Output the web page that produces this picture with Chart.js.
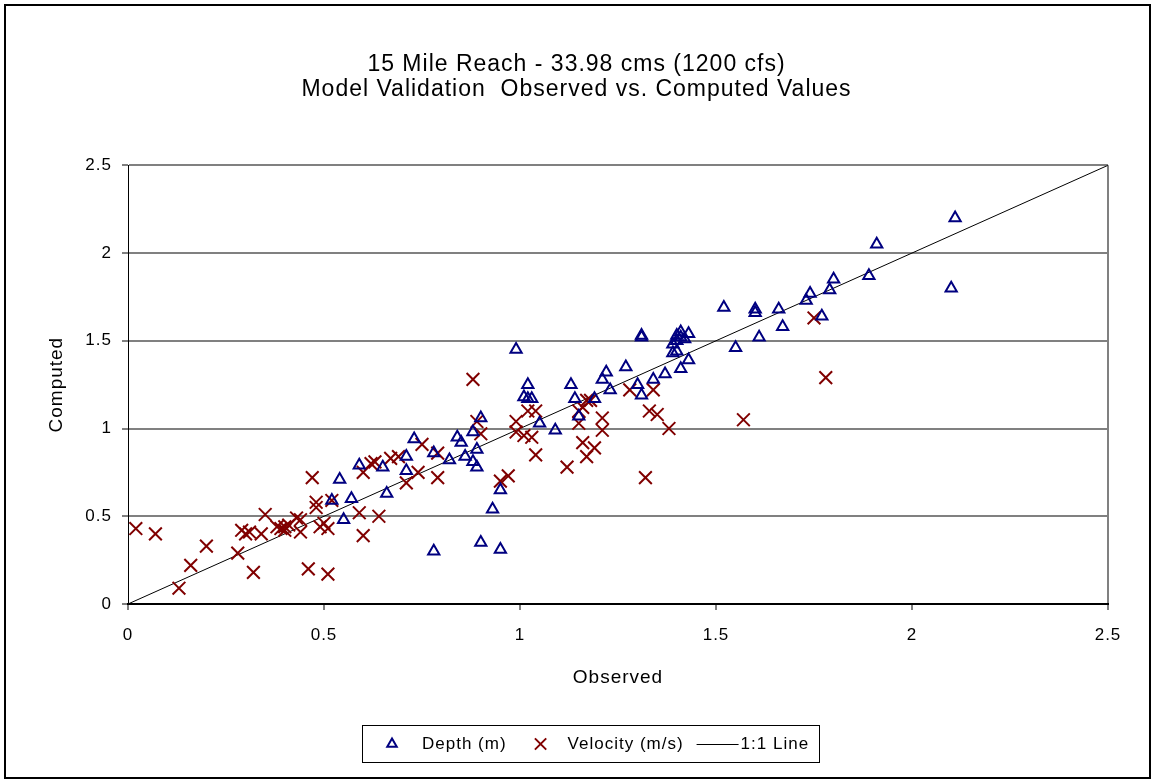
<!DOCTYPE html>
<html>
<head>
<meta charset="utf-8">
<title>15 Mile Reach - Model Validation</title>
<script src="https://cdn.jsdelivr.net/npm/chart.js@4.4.1/dist/chart.umd.min.js"></script>
<style>
    html, body { margin: 0; padding: 0; background: #fff; }
</style>
</head>
<body>
<canvas id="chart" width="1155" height="782"></canvas>
<script>
// Values (observed, computed).
const depth_observed = [
    0.52, 0.54, 0.55, 0.57, 0.59, 0.65, 0.66, 0.71, 0.71, 0.73,
    0.78, 0.78, 0.82, 0.84, 0.85, 0.86, 0.88, 0.88, 0.89, 0.89,
    0.90, 0.90, 0.93, 0.95, 0.95, 0.99, 1.01, 1.02, 1.02, 1.03,
    1.05, 1.09, 1.13, 1.14, 1.15, 1.19, 1.21, 1.22, 1.23, 1.27,
    1.30, 1.31, 1.31, 1.31, 1.34, 1.37, 1.39, 1.39, 1.40, 1.40,
    1.40, 1.41, 1.41, 1.42, 1.43, 1.41, 1.43, 1.52, 1.55, 1.60,
    1.60, 1.61, 1.66, 1.67, 1.73, 1.74, 1.77, 1.79, 1.80, 1.89,
    1.91, 2.11, 2.10,
];
const depth_computed = [
    0.59, 0.71, 0.48, 0.60, 0.79, 0.78, 0.63, 0.84, 0.76, 0.94,
    0.86, 0.30, 0.82, 0.95, 0.92, 0.84, 0.98, 0.81, 0.88, 0.78,
    1.06, 0.35, 0.54, 0.65, 0.31, 1.45, 1.18, 1.25, 1.17, 1.17,
    1.03, 0.99, 1.25, 1.17, 1.07, 1.17, 1.28, 1.32, 1.22, 1.35,
    1.25, 1.19, 1.53, 1.52, 1.28, 1.31, 1.43, 1.48, 1.44, 1.50,
    1.53, 1.52, 1.55, 1.51, 1.54, 1.34, 1.39, 1.69, 1.46, 1.68,
    1.66, 1.52, 1.68, 1.58, 1.73, 1.77, 1.64, 1.79, 1.85, 1.87,
    2.05, 2.20, 1.80,
];
const velocity_observed = [
    0.02, 0.07, 0.13, 0.16, 0.20, 0.28, 0.29, 0.30, 0.31, 0.32,
    0.34, 0.35, 0.38, 0.39, 0.40, 0.40, 0.41, 0.43, 0.44, 0.44,
    0.46, 0.47, 0.48, 0.48, 0.49, 0.50, 0.51, 0.51, 0.52, 0.59,
    0.60, 0.60, 0.62, 0.64, 0.63, 0.67, 0.69, 0.71, 0.74, 0.75,
    0.79, 0.79, 0.88, 0.89, 0.90, 0.95, 0.97, 0.99, 0.99, 1.01,
    1.02, 1.03, 1.04, 1.04, 1.12, 1.15, 1.15, 1.16, 1.17, 1.18,
    1.16, 1.17, 1.19, 1.21, 1.21, 1.28, 1.32, 1.33, 1.34, 1.35,
    1.38, 1.57, 1.75, 1.78,
];
const velocity_computed = [
    0.43, 0.40, 0.09, 0.22, 0.33, 0.29, 0.42, 0.40, 0.41, 0.18,
    0.40, 0.51, 0.44, 0.43, 0.42, 0.44, 0.45, 0.49, 0.48, 0.41,
    0.20, 0.72, 0.58, 0.55, 0.44, 0.46, 0.43, 0.17, 0.59, 0.52,
    0.39, 0.75, 0.80, 0.50, 0.81, 0.83, 0.84, 0.69, 0.75, 0.91,
    0.86, 0.72, 1.28, 1.04, 0.97, 0.70, 0.73, 1.04, 0.98, 0.96,
    1.10, 0.95, 1.10, 0.85, 0.78, 1.10, 1.03, 1.12, 1.16, 1.16,
    0.92, 0.84, 0.89, 1.06, 0.99, 1.22, 0.72, 1.10, 1.22, 1.08,
    1.00, 1.05, 1.63, 1.29,
];
const line_values = [0, 2.5];
const tick_values = [0, 0.5, 1, 1.5, 2, 2.5];
const tick_labels = ["0", "0.5", "1", "1.5", "2", "2.5"];
const title_lines = [
    "15 Mile Reach - 33.98 cms (1200 cfs)",
    "Model Validation  Observed vs. Computed Values",
];
const legend_labels = ["Depth (m)", "Velocity (m/s)", "1:1 Line"];

const font_family = '"Liberation Sans", Arial, sans-serif';
const depth_color = "#000080";
const velocity_color = "#800000";

function to_points(xs, ys) {
    return xs.map((x, i) => ({ x: x, y: ys[i] }));
}

// The spreadsheet text runs a bit wider than Arial; spread it slightly.
function widen_text(chart) {
    chart.ctx.letterSpacing = "1px";
}

// White page and black frame round the whole chart.
const frame = {
    id: "frame",
    beforeUpdate(chart) {
        widen_text(chart);
    },
    beforeDraw(chart) {
        const ctx = chart.ctx;
        widen_text(chart);
        ctx.save();
        ctx.fillStyle = "#fff";
        ctx.fillRect(0, 0, chart.width, chart.height);
        ctx.restore();
    },
    afterDraw(chart) {
        const ctx = chart.ctx;
        ctx.save();
        ctx.strokeStyle = "#000";
        ctx.lineWidth = 2;
        ctx.strokeRect(5, 5, chart.width - 10, chart.height - 9);
        ctx.restore();
    },
};

// Boxed legend under the plot, like the spreadsheet one.
const boxed_legend = {
    id: "boxed_legend",
    afterDraw(chart) {
        const ctx = chart.ctx;
        const y = 744;
        ctx.save();
        ctx.font = "17px " + font_family;
        ctx.textBaseline = "middle";
        ctx.fillStyle = "#000";

        let x = 392;
        const marker = (style, color, radius) => {
            ctx.strokeStyle = color;
            ctx.fillStyle = "rgba(0,0,0,0)";
            ctx.lineWidth = 2;
            Chart.helpers.drawPoint(ctx, { pointStyle: style, radius: radius, borderWidth: 2, rotation: 0 }, x, y);
            ctx.fillStyle = "#000";
        };

        marker("triangle", depth_color, 5.5);
        x += 30;
        ctx.fillText(legend_labels[0], x, y);
        x += ctx.measureText(legend_labels[0]).width + 34;

        marker("crossRot", velocity_color, 8);
        x += 27;
        ctx.fillText(legend_labels[1], x, y);
        x += ctx.measureText(legend_labels[1]).width + 13;

        ctx.strokeStyle = "#000";
        ctx.lineWidth = 1;
        ctx.beginPath();
        ctx.moveTo(x, y + 0.5);
        ctx.lineTo(x + 42, y + 0.5);
        ctx.stroke();
        x += 44;
        ctx.fillText(legend_labels[2], x, y);
        x += ctx.measureText(legend_labels[2]).width + 10;

        ctx.strokeStyle = "#000";
        ctx.lineWidth = 1;
        ctx.strokeRect(362.5, 725.5, Math.round(x - 362), 37);
        ctx.restore();
    },
};

const tick_font = { family: font_family, size: 17 };
const axis_title_font = { family: font_family, size: 19 };

const config = {
    type: "scatter",
    data: {
        datasets: [
            {
                label: legend_labels[0],
                data: to_points(depth_observed, depth_computed),
                pointStyle: "triangle",
                pointRadius: 6.5,
                pointBorderWidth: 2,
                borderColor: depth_color,
                backgroundColor: "rgba(0,0,0,0)",
            },
            {
                label: legend_labels[1],
                data: to_points(velocity_observed, velocity_computed),
                pointStyle: "crossRot",
                pointRadius: 9,
                pointBorderWidth: 2,
                borderColor: velocity_color,
                backgroundColor: "rgba(0,0,0,0)",
            },
            {
                label: legend_labels[2],
                data: to_points(line_values, line_values),
                showLine: true,
                pointRadius: 0,
                borderColor: "#000",
                borderWidth: 1,
            },
        ],
    },
    options: {
        responsive: false,
        animation: false,
        events: [],
        layout: {
            padding: { top: 10, left: 45, right: 47, bottom: 93 },
        },
        plugins: {
            legend: { display: false },
            tooltip: { enabled: false },
            title: {
                display: true,
                text: title_lines,
                color: "#000",
                font: { family: font_family, size: 23, weight: "normal", lineHeight: 1.05 },
                padding: { top: 43, bottom: 64 },
            },
        },
        scales: {
            x: {
                type: "linear",
                min: 0,
                max: 2.5,
                afterBuildTicks: (scale) => {
                    scale.ticks = tick_values.map(v => ({ value: v }));
                },
                afterFit: (scale) => { scale.height = 85; },
                ticks: {
                    callback: (value, index) => tick_labels[index],
                    color: "#000",
                    font: tick_font,
                    padding: 15,
                    maxRotation: 0,
                },
                grid: {
                    color: (c) => (c.tick && c.tick.value === 2.5 ? "#808080" : "rgba(0,0,0,0)"),
                    lineWidth: 2,
                    tickColor: "#000",
                    tickWidth: 1,
                    tickLength: 6,
                },
                border: { color: "#000", width: 2 },
                title: {
                    display: true,
                    text: "Observed",
                    color: "#000",
                    font: axis_title_font,
                    padding: 0,
                },
            },
            y: {
                type: "linear",
                min: 0,
                max: 2.5,
                afterBuildTicks: (scale) => {
                    scale.ticks = tick_values.map(v => ({ value: v }));
                },
                afterFit: (scale) => { scale.width = 83; },
                ticks: {
                    callback: (value, index) => tick_labels[index],
                    color: "#000",
                    font: tick_font,
                    padding: 10,
                },
                grid: {
                    color: (c) => (c.tick && c.tick.value > 0 ? "#808080" : "rgba(0,0,0,0)"),
                    lineWidth: 2,
                    tickColor: "#000",
                    tickWidth: 1,
                    tickLength: 6,
                },
                border: { color: "#000", width: 1 },
                title: {
                    display: true,
                    text: "Computed",
                    color: "#000",
                    font: axis_title_font,
                    padding: 0,
                },
            },
        },
    },
    plugins: [frame, boxed_legend],
};

window.myChart = new Chart(document.getElementById("chart"), config);
</script>
</body>
</html>
